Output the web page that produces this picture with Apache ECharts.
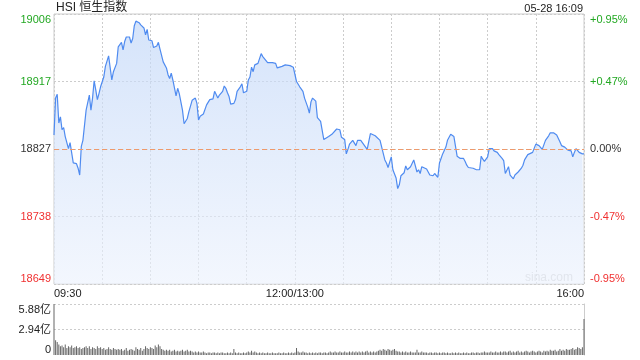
<!DOCTYPE html>
<html>
<head>
<meta charset="utf-8">
<script src="https://cdn.jsdelivr.net/npm/echarts@6/dist/echarts.min.js"></script>
<style>
html,body{margin:0;padding:0;background:#fff;}
#c{width:640px;height:360px;}
</style>
</head>
<body>
<div id="c"></div>
<script>
// ---- data (minutes since 09:30, lunch break collapsed; 150 = 12:00/13:00, 330 = 16:00) ----
const titleText = 'HSI 恒生指数';
const dateText = '05-28 16:09';
const prevClose = 18827.5;
const yMin = 18648.5;
const yMax = 19006.5;
const yTickValues = [18648.5, 18738, 18827.5, 18917, 19006.5];
const yTickLabels = ['18649', '18738', '18827', '18917', '19006'];
const pctTickLabels = ['-0.95%', '-0.47%', '0.00%', '+0.47%', '+0.95%'];
const xLabelTimes = [0, 150, 330];
const xLabels = ['09:30', '12:00/13:00', '16:00'];
const volTickValues = [0, 2.94, 5.88];
const volTickLabels = ['0', '2.94亿', '5.88亿'];

const times = [0,1,2,3,4,5,6,7,9,10,11,12,14,15,16,17,18,19,20,21,22,23,24,25,26,27,28,29,31,32,34,35,36,37,38,39,40,42,43,44,45,47,48,49,50,51,53,54,55,56,57,58,59,61,62,63,64,65,66,67,68,70,71,72,73,74,75,76,77,78,79,80,81,83,84,85,86,88,89,90,91,93,94,95,97,98,99,100,101,102,103,105,106,107,108,109,110,112,113,114,115,116,117,118,119,120,121,122,123,124,125,127,128,129,130,131,133,134,136,138,139,140,142,144,145,147,148,149,150,151,152,153,154,155,156,157,158,159,160,161,162,163,164,166,167,168,169,171,172,173,174,176,177,178,179,181,182,183,184,185,186,188,189,191,192,194,195,196,197,198,200,201,203,204,206,207,208,209,210,211,213,214,215,216,218,219,220,221,222,224,225,226,227,228,229,230,232,233,234,235,236,237,238,239,240,241,242,243,244,245,247,248,249,250,251,252,253,255,256,257,258,259,261,262,263,264,265,266,267,268,270,271,273,274,276,277,278,279,280,281,283,284,285,286,287,289,291,292,293,295,296,298,299,300,302,303,304,306,307,308,309,311,312,313,315,316,317,318,319,320,322,323,324,325,327,328,329,330];
const prices = [18846,18895,18900,18862,18870,18853,18856,18844,18828,18836,18834,18809,18808,18802,18793,18831,18839,18839,18879,18881,18899,18879,18895,18918,18906,18893,18901,18910,18923,18937,18951,18950,18919,18930,18928,18941,18963,18969,18959,18970,18976,18976,18968,18974,18991,18997,18995,18992,18993,18988,18979,18986,18972,18971,18962,18962,18964,18969,18960,18961,18943,18935,18926,18921,18928,18919,18917,18898,18908,18901,18901,18879,18861,18868,18877,18878,18892,18895,18888,18866,18871,18874,18874,18886,18893,18893,18894,18904,18906,18895,18899,18904,18911,18908,18902,18897,18887,18888,18893,18904,18906,18910,18914,18902,18902,18904,18919,18923,18936,18930,18939,18941,18943,18954,18950,18948,18942,18943,18942,18941,18935,18936,18937,18939,18938,18938,18937,18936,18936,18917,18918,18910,18909,18904,18895,18893,18883,18875,18890,18895,18897,18891,18869,18864,18863,18840,18842,18844,18843,18847,18846,18854,18854,18853,18843,18840,18821,18827,18834,18836,18839,18832,18839,18839,18836,18830,18827,18827,18848,18846,18845,18844,18839,18839,18813,18809,18803,18802,18817,18800,18789,18775,18780,18792,18796,18805,18800,18801,18804,18813,18813,18797,18800,18795,18804,18802,18801,18797,18793,18795,18792,18795,18793,18790,18809,18815,18821,18823,18830,18839,18847,18849,18844,18831,18818,18817,18815,18815,18811,18806,18803,18803,18802,18803,18800,18802,18800,18818,18814,18811,18817,18828,18828,18825,18823,18820,18822,18815,18812,18795,18804,18793,18791,18788,18793,18797,18802,18806,18813,18820,18822,18823,18823,18834,18832,18832,18827,18839,18839,18845,18849,18849,18849,18846,18837,18832,18831,18830,18830,18826,18825,18817,18823,18828,18823,18822,18821,18821];

// volume per minute (亿), index = minute 0..330
const volumes = [
5.88,
1.7,1.5,1.2,1.0,1.1,0.9,1.2,0.8,1.0,0.9,
1.1,0.8,0.9,1.0,0.8,0.9,0.7,0.8,0.9,1.0,
0.8,1.0,0.7,0.9,0.8,0.7,1.0,0.8,0.9,0.7,
0.8,0.6,0.7,0.9,0.7,0.6,0.8,0.7,0.6,0.7,
0.6,0.7,0.5,0.6,0.8,0.5,0.6,0.7,0.6,0.5,
0.9,0.7,0.6,0.8,0.5,0.7,1.0,0.8,0.7,0.9,
0.8,0.7,1.1,0.9,1.2,1.0,0.7,0.6,0.5,0.6,
0.5,0.6,0.4,0.5,0.6,0.4,0.5,0.4,0.5,0.6,
0.4,0.5,0.6,0.4,0.5,0.4,0.3,0.4,0.3,0.4,
0.3,0.3,0.4,0.3,0.2,0.3,0.3,0.2,0.3,0.3,
0.2,0.3,0.2,0.3,0.3,0.2,0.2,0.3,0.2,0.3,
0.2,0.7,0.3,0.2,0.3,0.2,0.2,0.3,0.2,0.3,
0.4,0.3,0.5,0.3,0.4,0.3,0.2,0.3,0.2,0.3,
0.2,0.2,0.3,0.2,0.2,0.3,0.2,0.2,0.2,0.3,
0.2,0.2,0.3,0.2,0.2,0.3,0.2,0.3,0.2,0.3,
0.8,0.4,0.3,0.3,0.4,0.3,0.3,0.2,0.3,0.2,
0.3,0.2,0.3,0.2,0.3,0.3,0.2,0.3,0.3,0.2,
0.3,0.4,0.3,0.3,0.4,0.3,0.3,0.4,0.3,0.3,
0.4,0.3,0.3,0.4,0.3,0.4,0.3,0.4,0.3,0.4,
0.3,0.4,0.3,0.4,0.5,0.3,0.4,0.3,0.4,0.3,
0.4,0.5,0.6,0.5,0.7,0.6,0.5,0.7,0.6,0.5,
0.6,0.7,0.5,0.4,0.4,0.3,0.4,0.3,0.4,0.3,
0.3,0.4,0.3,0.3,0.3,0.6,0.3,0.3,0.4,0.3,
0.3,0.3,0.2,0.3,0.3,0.2,0.3,0.3,0.2,0.3,
0.2,0.3,0.3,0.2,0.3,0.2,0.2,0.3,0.2,0.3,
0.2,0.3,0.2,0.2,0.3,0.2,0.3,0.2,0.2,0.3,
0.3,0.2,0.3,0.3,0.2,0.3,0.3,0.4,0.3,0.3,
0.3,0.4,0.3,0.3,0.4,0.3,0.3,0.4,0.3,0.4,
0.4,0.3,0.4,0.5,0.3,0.4,0.3,0.4,0.5,0.3,
0.4,0.3,0.4,0.5,0.4,0.3,0.4,0.5,0.4,0.3,
0.4,0.5,0.4,0.3,0.5,0.4,0.5,0.4,0.6,0.5,
0.5,0.6,0.4,0.5,0.7,0.5,0.6,0.5,0.7,0.6,
0.6,0.7,0.8,0.6,0.7,0.9,0.8,0.7,0.9,
4.15
];

// ---- chart ----
const FONT = '"Liberation Sans", Arial, "Noto Sans CJK SC", sans-serif';
const GREEN = '#22a822';
const RED = '#f03030';
const GRID_C = '#cccccc';

const lineData = times.map((t, i) => [t, prices[i]]);
const volData = volumes.map((v, i) => [i, v]);

function priceColor(v) {
  if (Math.abs(v - prevClose) < 1e-6) return '#333';
  return v > prevClose ? GREEN : RED;
}

const chart = echarts.init(document.getElementById('c'), null, {renderer: 'canvas'});
chart.setOption({
  animation: false,
  backgroundColor: '#fff',
  textStyle: {fontFamily: FONT},
  graphic: [
    {type: 'text', left: 56, top: 2, style: {text: titleText, font: '12px ' + FONT, fill: '#222'}},
    {type: 'text', right: 57, top: 3, style: {text: dateText, font: '11px ' + FONT, fill: '#222'}},
    {type: 'text', right: 67, top: 272, style: {text: 'sina.com', font: '12px ' + FONT, fill: '#d0d0d0'}}
  ],
  grid: [
    {left: 54, right: 56, top: 14, height: 270, show: true, borderColor: GRID_C, borderWidth: 1, backgroundColor: 'transparent'},
    {left: 54, right: 56, top: 304, height: 51}
  ],
  xAxis: [
    {
      type: 'value', gridIndex: 0, min: 0, max: 330, interval: 30,
      axisLine: {show: false}, axisTick: {show: false},
      splitLine: {show: true, lineStyle: {color: GRID_C, type: [2, 2], width: 1}},
      axisLabel: {
        customValues: xLabelTimes,
        formatter: v => xLabels[xLabelTimes.indexOf(v)],
        alignMinLabel: 'left', alignMaxLabel: 'right',
        color: '#222', fontSize: 11, margin: 4, fontFamily: FONT
      }
    },
    {
      type: 'value', gridIndex: 1, min: 0, max: 330,
      axisLine: {show: false}, axisTick: {show: false}, axisLabel: {show: false}, splitLine: {show: false}
    }
  ],
  yAxis: [
    {
      type: 'value', gridIndex: 0, position: 'left', min: yMin, max: yMax,
      axisLine: {show: false},
      axisTick: {show: false, customValues: yTickValues},
      splitLine: {show: true, lineStyle: {color: GRID_C, type: [2, 2], width: 1}},
      axisLabel: {
        customValues: yTickValues,
        formatter: v => yTickLabels[yTickValues.indexOf(v)],
        color: v => priceColor(v),
        fontSize: 11, margin: 3, fontFamily: FONT,
        verticalAlignMinLabel: 'bottom', verticalAlignMaxLabel: 'top'
      }
    },
    {
      type: 'value', gridIndex: 0, position: 'right', min: yMin, max: yMax,
      axisLine: {show: false},
      axisTick: {show: false, customValues: yTickValues},
      splitLine: {show: false},
      axisLabel: {
        customValues: yTickValues,
        formatter: v => pctTickLabels[yTickValues.indexOf(v)],
        color: v => priceColor(v),
        fontSize: 11, margin: 6, fontFamily: FONT,
        verticalAlignMinLabel: 'bottom', verticalAlignMaxLabel: 'top'
      }
    },
    {
      type: 'value', gridIndex: 1, position: 'left', min: 0, max: 5.88,
      axisLine: {show: false},
      axisTick: {show: false, customValues: [2.94, 5.88]},
      splitLine: {show: true, lineStyle: {color: GRID_C, type: [2, 2], width: 1}},
      axisLabel: {
        customValues: volTickValues,
        formatter: v => volTickLabels[volTickValues.indexOf(v)],
        color: '#222', fontSize: 11, margin: 3, fontFamily: FONT,
        verticalAlignMinLabel: 'bottom', verticalAlignMaxLabel: 'top'
      }
    },
    {
      type: 'value', gridIndex: 1, position: 'right', min: 0, max: 5.88,
      axisLine: {show: true, lineStyle: {color: GRID_C, width: 1}},
      axisTick: {show: false}, axisLabel: {show: false}, splitLine: {show: false}
    }
  ],
  series: [
    {
      type: 'line', xAxisIndex: 0, yAxisIndex: 0, data: lineData,
      showSymbol: false, symbol: 'none',
      lineStyle: {color: '#4f8bf0', width: 1.2},
      areaStyle: {
        origin: 'start',
        color: new echarts.graphic.LinearGradient(0, 0, 0, 1, [
          {offset: 0, color: 'rgba(192,214,248,0.95)'},
          {offset: 1, color: 'rgba(236,242,253,0.9)'}
        ])
      },
      markLine: {
        silent: true, symbol: 'none', animation: false,
        label: {show: false},
        lineStyle: {color: '#ee9a6c', type: [5, 3], width: 1},
        data: [{yAxis: prevClose}]
      },
      z: 3
    },
    {
      type: 'bar', xAxisIndex: 1, yAxisIndex: 2, data: volData,
      barWidth: 1, itemStyle: {color: '#666'}, large: false
    }
  ]
});
</script>
</body>
</html>
